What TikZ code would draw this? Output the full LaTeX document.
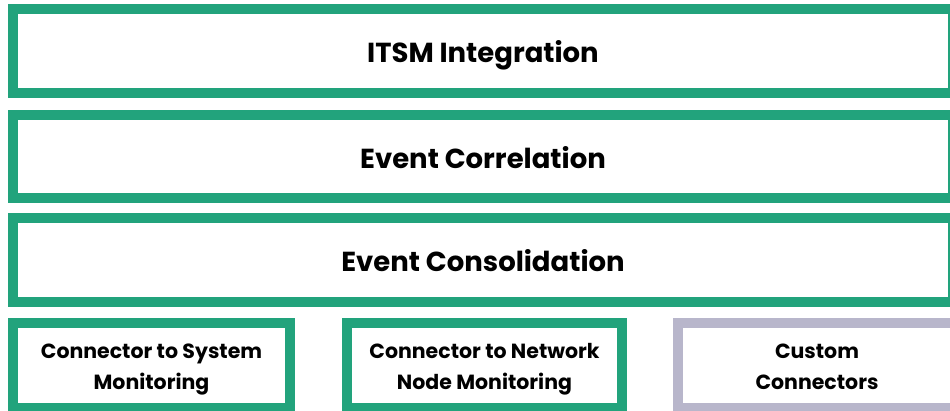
\documentclass[tikz,border=0pt]{standalone}
\usepackage{fontspec}
\setmainfont{Poppins}
\definecolor{hpegreen}{HTML}{22A37C}
\definecolor{hpegray}{HTML}{B8B6CB}
\begin{document}
\begin{tikzpicture}[x=1pt,y=-1pt,
  layer/.style={draw=hpegreen, line width=10pt, fill=white, inner sep=0pt},
  custom/.style={layer, draw=hpegray},
  bigtext/.style={inner sep=0pt, text height=19.3pt, text depth=0pt,
    font=\bfseries\fontsize{27.5}{30}\selectfont, text=black},
  smalltext/.style={inner sep=0pt, align=center,
    font=\bfseries\fontsize{20.5}{31}\selectfont, text=black}]
\useasboundingbox (0,0) rectangle (950,410);
\clip (0,0) rectangle (950,410);
\node[layer, minimum width=940pt, minimum height=84pt] (itsm) at (483,51) {};
\node[layer, minimum width=940pt, minimum height=83pt] (corr) at (483,156.5) {};
\node[layer, minimum width=940pt, minimum height=84pt] (cons) at (483,260) {};
\node[layer, minimum width=277pt, minimum height=85pt] (sys) at (151.5,365.5) {};
\node[layer, minimum width=275pt, minimum height=85pt] (net) at (484.5,365.5) {};
\node[custom, minimum width=278pt, minimum height=85pt] (cust) at (817,365.5) {};
\node[bigtext] (itsmT) at ([yshift=-1.5pt]itsm.center) {ITSM Integration};
\node[bigtext] (corrT) at ([yshift=-2.5pt]corr.center) {Event Correlation};
\node[bigtext] (consT) at ([yshift=-2pt]cons.center) {Event Consolidation};
\node[smalltext] (sysT) at ([yshift=-4pt]sys.center) {Connector to System\\Monitoring};
\node[smalltext] (netT) at ([yshift=-4pt]net.center) {Connector to Network\\Node Monitoring};
\node[smalltext] (custT) at ([yshift=-1pt]cust.center) {Custom\\Connectors};
\end{tikzpicture}
\end{document}
